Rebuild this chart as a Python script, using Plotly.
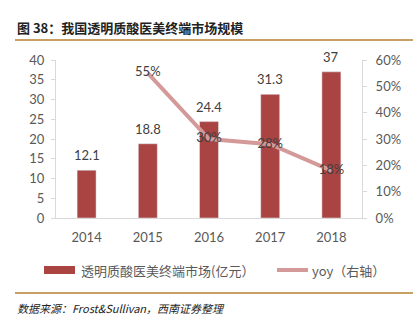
import plotly.graph_objects as go

years = [2014, 2015, 2016, 2017, 2018]
market = [12.1, 18.8, 24.4, 31.3, 37]
yoy_years = [2015, 2016, 2017, 2018]
yoy = [55, 30, 28, 18]
yoy_labels = ["55%", "30%", "28%", "18%"]

W, H = 419, 325
L, R, T, B = 56, 57, 60, 107
pw, ph = W - L - R, H - T - B

def px(x):
    return (x - L) / pw

def py(y):
    return (H - B - y) / ph

BAR = "#A94442"
LINE = "#D49A9A"
GRID = "#D9D9D9"
TXT = "#595959"
NUMF = "Lato, Noto Sans CJK SC, sans-serif"
CJK = "Noto Sans CJK SC, sans-serif"

fig = go.Figure()
fig.add_trace(go.Bar(x=years, y=market, marker_color=BAR, width=0.31,
                     showlegend=False, hoverinfo="skip"))
fig.add_trace(go.Scatter(x=yoy_years, y=yoy, yaxis="y2", mode="lines+text",
                         line=dict(color=LINE, width=4),
                         text=yoy_labels, textposition="middle center",
                         textfont=dict(family=NUMF, size=13, color="#404040"),
                         showlegend=False, cliponaxis=False, hoverinfo="skip"))

annotations = []
for yr, v in zip(years, market):
    annotations.append(dict(x=yr, y=v, xref="x", yref="y", text=f"{v:g}",
                            showarrow=False, yshift=15,
                            font=dict(family=NUMF, size=13, color="#404040")))

annotations += [
    dict(x=px(15), y=py(27), xref="paper", yref="paper", xanchor="left", yanchor="middle",
         text="<b>图 38：我国透明质酸医美终端市场规模</b>", showarrow=False,
         font=dict(family=CJK, size=13, color="#222222")),
    dict(x=px(79), y=py(270), xref="paper", yref="paper", xanchor="left", yanchor="middle",
         text="透明质酸医美终端市场(亿元）", showarrow=False,
         font=dict(family=CJK, size=13, color=TXT)),
    dict(x=px(310), y=py(270), xref="paper", yref="paper", xanchor="left", yanchor="middle",
         text="yoy（右轴）", showarrow=False,
         font=dict(family=CJK, size=13, color=TXT)),
    dict(x=px(15), y=py(308), xref="paper", yref="paper", xanchor="left", yanchor="middle",
         text="数据来源：Frost&Sullivan，西南证券整理", showarrow=False,
         font=dict(family=CJK, size=11, color="#222222", style="italic")),
]

shapes = [
    dict(type="line", xref="paper", yref="paper", x0=px(15), x1=px(413), y0=py(40), y1=py(40),
         line=dict(color="#C9A063", width=2)),
    dict(type="line", xref="paper", yref="paper", x0=px(15), x1=px(413), y0=py(293), y1=py(293),
         line=dict(color="#C9A063", width=2)),
    dict(type="rect", xref="paper", yref="paper", x0=px(44), x1=px(75), y0=py(274), y1=py(266),
         fillcolor=BAR, line=dict(width=0)),
    dict(type="line", xref="paper", yref="paper", x0=px(277), x1=px(308), y0=py(270), y1=py(270),
         line=dict(color=LINE, width=4)),
]

fig.update_layout(
    width=W, height=H, margin=dict(l=L, r=R, t=T, b=B),
    paper_bgcolor="white", plot_bgcolor="white",
    xaxis=dict(type="linear", range=[2013.5, 2018.5], tickmode="array", tickvals=years,
               ticktext=[str(y) for y in years], showline=True, linecolor=GRID, linewidth=1,
               ticks="", tickfont=dict(family=NUMF, size=13, color=TXT), ticklabelstandoff=7,
               showgrid=False, zeroline=False, fixedrange=True),
    yaxis=dict(range=[0, 40], dtick=5, showline=True, linecolor=GRID, linewidth=1,
               ticks="outside", ticklen=4, tickcolor=GRID, showgrid=False, ticklabelstandoff=4,
               tickfont=dict(family=NUMF, size=13, color=TXT), zeroline=False),
    yaxis2=dict(range=[0, 60], dtick=10, overlaying="y", side="right", ticksuffix="%",
                showline=True, linecolor=GRID, linewidth=1, ticks="outside", ticklen=4,
                tickcolor=GRID, showgrid=False, zeroline=False, ticklabelstandoff=6,
                tickfont=dict(family=NUMF, size=13, color=TXT)),
    annotations=annotations, shapes=shapes, showlegend=False,
)

fig.write_html("out.html")
